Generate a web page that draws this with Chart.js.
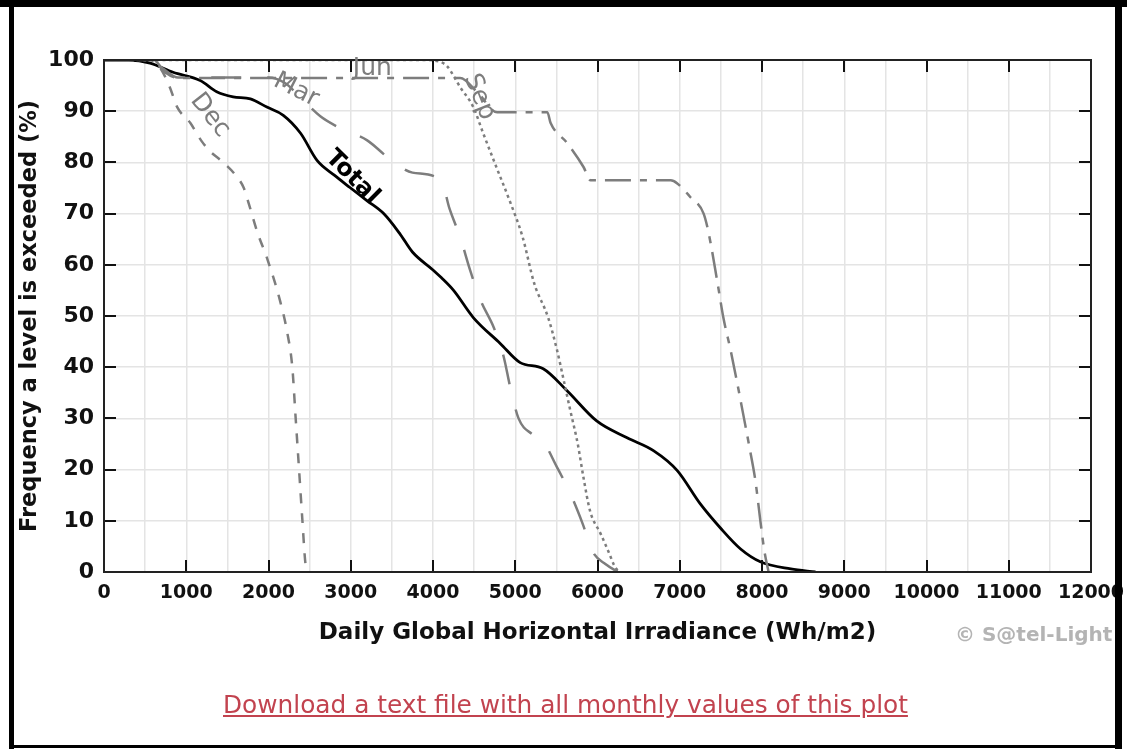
<!DOCTYPE html>
<html><head><meta charset="utf-8">
<script src="https://cdn.jsdelivr.net/npm/chart.js@4.4.1/dist/chart.umd.min.js"></script>
<style>
html,body{margin:0;padding:0;background:#fff;}
#wrap{position:relative;width:1127px;height:749px;overflow:hidden;background:#fff;}
#c{position:absolute;left:0;top:0;}
.bar{position:absolute;background:#000;}
#link{position:absolute;left:223px;top:690px;font-family:"DejaVu Sans",Verdana,sans-serif;font-size:24.8px;color:#c2434f;text-decoration:underline;white-space:nowrap;}
#copy{position:absolute;left:955px;top:622px;font-family:"DejaVu Sans",sans-serif;font-weight:bold;font-size:20px;color:#b4b4b4;white-space:nowrap;}
</style></head>
<body><div id="wrap">
<canvas id="c" width="1127" height="749"></canvas>
<div id="copy">© S@tel-Light</div>
<a id="link" href="#">Download a text file with all monthly values of this plot</a>
<div class="bar" style="left:0;top:0;width:1127px;height:7px"></div>
<div class="bar" style="left:9px;top:0;width:5px;height:749px"></div>
<div class="bar" style="left:1115px;top:0;width:7px;height:749px"></div>
<div class="bar" style="left:9px;top:745px;width:1113px;height:3px"></div>
</div>
<script>
// ---- data ----
const xTickLabels = ['0','1000','2000','3000','4000','5000','6000','7000','8000','9000','10000','11000','12000'];
const yTickLabels = ['0','10','20','30','40','50','60','70','80','90','100'];

const totalX = [0,300,560,840,1170,1370,1570,1780,1980,2180,2390,2590,2800,2990,3200,3400,3600,3750,4000,4100,4250,4490,4820,5060,5340,5630,5990,6360,6680,6970,7250,7500,7740,7980,8350,8650];
const totalY = [100,100,99.4,97.6,96,93.8,92.8,92.4,90.8,89.2,85.7,80.4,77.5,75.1,72.5,70,66,62.5,59,57.5,55,49.7,44.6,40.9,39.7,35.4,29.5,26.2,23.7,19.8,13.3,8.5,4.5,2,0.6,0];

const decX = [0,550,680,800,890,1050,1180,1300,1420,1600,1700,1750,1870,1980,2140,2230,2290,2330,2370,2410,2450,2480];
const decY = [100,100,98.5,94.7,90.8,87.7,84.3,82,80.4,77.5,75,72.5,66.1,61.4,53,46.6,39.9,30.1,20.4,10.6,1.5,0];

const marX = [0,500,700,900,2000,2200,2400,2630,2870,3200,3450,3750,4100,4200,4330,4450,4580,4740,4860,4940,5040,5200,5310,5510,5670,5820,5940,6100,6250];
const marY = [100,100,98.5,96.6,96.6,95.5,92.5,89,86.7,84.3,81,78,76.5,71,65.4,59,53,47.7,42,36,30,27,26.2,20.4,15.3,9.4,4,1.5,0];

const junX = [0,600,750,900,4330,4550,4780,5390,5430,5630,5830,5915,6890,6970,7130,7290,7350,7460,7530,7620,7700,7780,7840,7920,7980,8030,8080];
const junY = [100,100,97.5,96.5,96.5,93.5,89.8,89.8,87.7,83.8,79.1,76.5,76.5,75.9,73.2,70,66.3,56.4,49.7,43.2,36.8,30.1,25,17.8,10,4,0];

const sepX = [0,3900,4050,4170,4330,4490,4610,4770,4930,5090,5230,5400,5510,5590,5670,5760,5830,5910,6040,6130,6220,6280];
const sepY = [100,100,99.8,98.8,94.7,90.8,85.7,79.1,72.6,65.4,56.4,49.7,43.2,37.4,31.5,25,18.4,11.9,7.4,4.1,0.8,0];

// curve labels (text and anchor in data units)
const curveLabels = ['Total','Dec','Mar','Jun','Sep'];
const curveLabelX = [3018,1290,2337,3262,4564];
const curveLabelY = [77.1,89.2,94.1,98.4,92.8];

const pts = (xs, ys) => xs.map((x, i) => ({x, y: ys[i]}));
const GRAY = '#7d7d7d';
const FONT = '"DejaVu Sans", Verdana, sans-serif';

const styleTable = {
  Total: {angle: 45, color: '#000', font: 'bold 24px ' + FONT},
  Dec: {angle: 52, color: GRAY, font: '25px ' + FONT},
  Mar: {angle: 27, color: GRAY, font: '25px ' + FONT},
  Jun: {angle: 0, color: GRAY, font: '25px ' + FONT},
  Sep: {angle: 68, color: GRAY, font: '25px ' + FONT}
};

const decorPlugin = {
  id: 'decor',
  afterDraw(chart) {
    const ctx = chart.ctx, a = chart.chartArea;
    const xs = chart.scales.x, ys = chart.scales.y;
    ctx.save();
    ctx.strokeStyle = '#111';
    ctx.lineWidth = 2;
    ctx.beginPath();
    for (let i = 1; i < xTickLabels.length - 1; i++) {
      const px = Math.round(xs.getPixelForValue(Number(xTickLabels[i])));
      ctx.moveTo(px, a.bottom); ctx.lineTo(px, a.bottom - 12);
      ctx.moveTo(px, a.top); ctx.lineTo(px, a.top + 12);
    }
    for (let i = 1; i < yTickLabels.length - 1; i++) {
      const py = Math.round(ys.getPixelForValue(Number(yTickLabels[i])));
      ctx.moveTo(a.left, py); ctx.lineTo(a.left + 12, py);
      ctx.moveTo(a.right, py); ctx.lineTo(a.right - 12, py);
    }
    ctx.stroke();
    ctx.strokeStyle = '#222';
    ctx.lineWidth = 2;
    ctx.strokeRect(a.left, a.top, a.right - a.left, a.bottom - a.top);
    ctx.textAlign = 'center';
    ctx.textBaseline = 'middle';
    curveLabels.forEach((t, i) => {
      const s = styleTable[t];
      ctx.save();
      ctx.translate(xs.getPixelForValue(curveLabelX[i]), ys.getPixelForValue(curveLabelY[i]));
      ctx.rotate(s.angle * Math.PI / 180);
      ctx.font = s.font;
      ctx.fillStyle = s.color;
      ctx.fillText(t, 0, 0);
      ctx.restore();
    });
    ctx.restore();
  }
};

const lineDs = (label, xs, ys, color, width, dash) => ({
  label, data: pts(xs, ys), borderColor: color, borderWidth: width,
  borderDash: dash, pointRadius: 0, cubicInterpolationMode: 'monotone', fill: false,
  borderCapStyle: 'butt', borderJoinStyle: 'round'
});

new Chart(document.getElementById('c'), {
  type: 'line',
  data: {
    datasets: [
      lineDs('Dec', decX, decY, GRAY, 2.5, [10, 10]),
      lineDs('Mar', marX, marY, GRAY, 2.5, [30, 26]),
      lineDs('Jun', junX, junY, GRAY, 2.5, [26, 9, 7, 9]),
      lineDs('Sep', sepX, sepY, GRAY, 2.5, [3, 3.5]),
      lineDs('Total', totalX, totalY, '#000', 2.8, [])
    ]
  },
  options: {
    responsive: false,
    animation: false,
    devicePixelRatio: 1,
    layout: {padding: {top: 60, right: 36, left: 0, bottom: 0}},
    plugins: {legend: {display: false}, tooltip: {enabled: false}},
    scales: {
      x: {
        type: 'linear', min: 0, max: 12000,
        afterFit: s => { s.height = 177; s.paddingRight = 0; s.paddingLeft = 0; },
        border: {display: false},
        grid: {color: '#e4e4e4', lineWidth: 1.5, drawTicks: false},
        ticks: {
          stepSize: 500, autoSkip: false, maxRotation: 0, padding: 10,
          color: '#111', font: {family: FONT, weight: 'bold', size: 19},
          callback: v => (v % 1000 === 0 ? xTickLabels[v / 1000] : '')
        },
        title: {display: true, text: 'Daily Global Horizontal Irradiance (Wh/m2)',
          color: '#111', font: {family: FONT, weight: 'bold', size: 23}, padding: {top: 0, bottom: 102}}
      },
      y: {
        type: 'linear', min: 0, max: 100,
        afterFit: s => { s.width = 104; s.paddingTop = 0; s.paddingBottom = 0; },
        border: {display: false},
        grid: {color: '#e4e4e4', lineWidth: 1.5, drawTicks: false},
        ticks: {
          stepSize: 10, autoSkip: false, padding: 10,
          color: '#111', font: {family: FONT, weight: 'bold', size: 22},
          callback: v => yTickLabels[Math.round(v / 10)]
        },
        title: {display: true, text: 'Frequency a level is exceeded (%)',
          color: '#111', font: {family: FONT, weight: 'bold', size: 22.5}, padding: {top: 17, bottom: 0}}
      }
    }
  },
  plugins: [decorPlugin]
});
</script>
</body></html>
